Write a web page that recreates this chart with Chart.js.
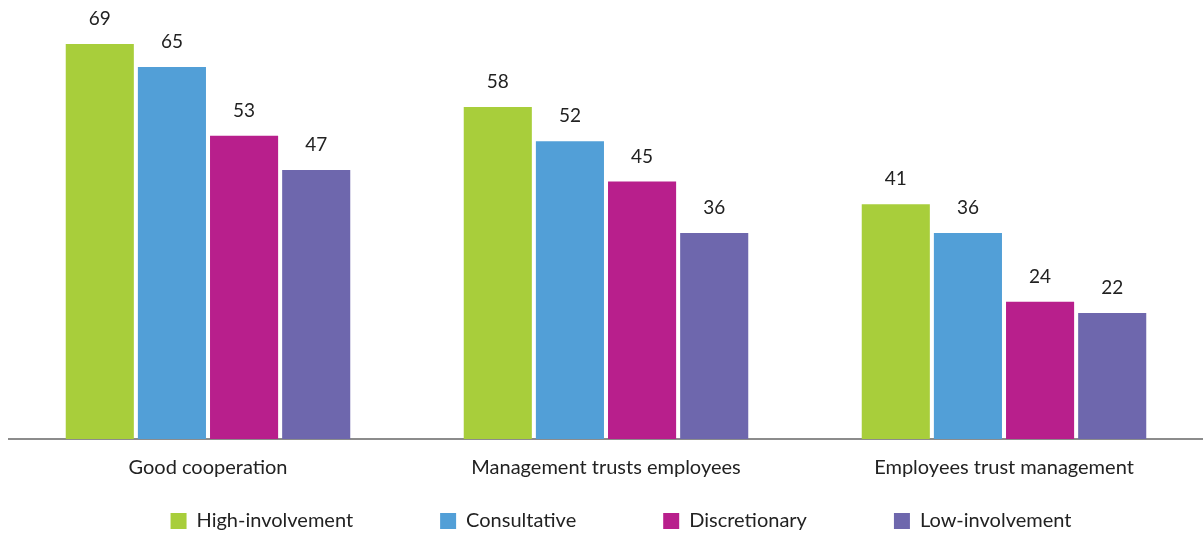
<!DOCTYPE html>
<html>
<head>
<meta charset="utf-8">
<script src="https://cdn.jsdelivr.net/npm/chart.js@4/dist/chart.umd.min.js"></script>
<style>
  html, body { margin: 0; padding: 0; background: #fff; }
  #wrap { width: 1203px; height: 534px; position: relative; }
</style>
</head>
<body>
<div id="wrap"><canvas id="myChart"></canvas></div>
<script>
// Categories and series
const categorias = ['Good cooperation', 'Management trusts employees', 'Employees trust management']

const high_involvement = [69, 58, 41]
const consultative = [65, 52, 36]
const discretionary = [53, 45, 24]
const low_involvement = [47, 36, 22]

const series_nomes = ['High-involvement', 'Consultative', 'Discretionary', 'Low-involvement']
const cores = ['#a8ce3b', '#529fd7', '#b81f8c', '#6e67ad']

const fonte = 'Lato'
const legenda_padding = 87

// Plugin para escrever o valor em cima de cada barra.
const valoresPlugin = {
  id: 'valores',
  afterDatasetsDraw(chart) {
    const ctx = chart.ctx
    ctx.save()
    ctx.fillStyle = '#222'
    ctx.font = '19px ' + fonte
    ctx.textAlign = 'center'
    ctx.textBaseline = 'middle'
    chart.data.datasets.forEach((ds, i) => {
      chart.getDatasetMeta(i).data.forEach((bar, j) => {
        ctx.fillText(ds.data[j], bar.x, bar.y - 25)
      })
    })
    ctx.restore()
  }
}

// A legenda usa padding grande (espaço horizontal entre itens),
// então a caixa dela é reposicionada para a linha ficar no rodapé.
const legendaPlugin = {
  id: 'legendaAjuste',
  afterLayout(chart) {
    const lg = chart.legend
    if (!lg) return
    const centro = chart.height - 13
    lg.top = centro - 10 - legenda_padding
    lg.bottom = chart.height
    lg.left += 28
  }
}

const dados = [high_involvement, consultative, discretionary, low_involvement]

new Chart(document.getElementById('myChart'), {
  type: 'bar',
  data: {
    labels: categorias,
    datasets: dados.map((d, i) => ({
      label: series_nomes[i],
      data: d,
      backgroundColor: cores[i],
      borderWidth: 0,
      barPercentage: 0.944,
      categoryPercentage: 0.725
    }))
  },
  options: {
    responsive: true,
    maintainAspectRatio: false,
    animation: false,
    layout: { padding: { top: 4, left: 9, right: -2, bottom: -18 } },
    plugins: {
      legend: {
        position: 'bottom',
        maxHeight: 55,
        labels: {
          boxWidth: 16,
          boxHeight: 16,
          padding: legenda_padding,
          color: '#222',
          font: { family: fonte, size: 20 }
        }
      },
      tooltip: { enabled: false }
    },
    scales: {
      x: {
        grid: { display: false, drawTicks: false },
        border: { display: true, color: '#8c8c8c', width: 2 },
        ticks: { color: '#222', padding: 17, font: { family: fonte, size: 20 } }
      },
      y: {
        display: false,
        min: 0,
        max: 76
      }
    }
  },
  plugins: [valoresPlugin, legendaPlugin]
})
</script>
</body>
</html>
